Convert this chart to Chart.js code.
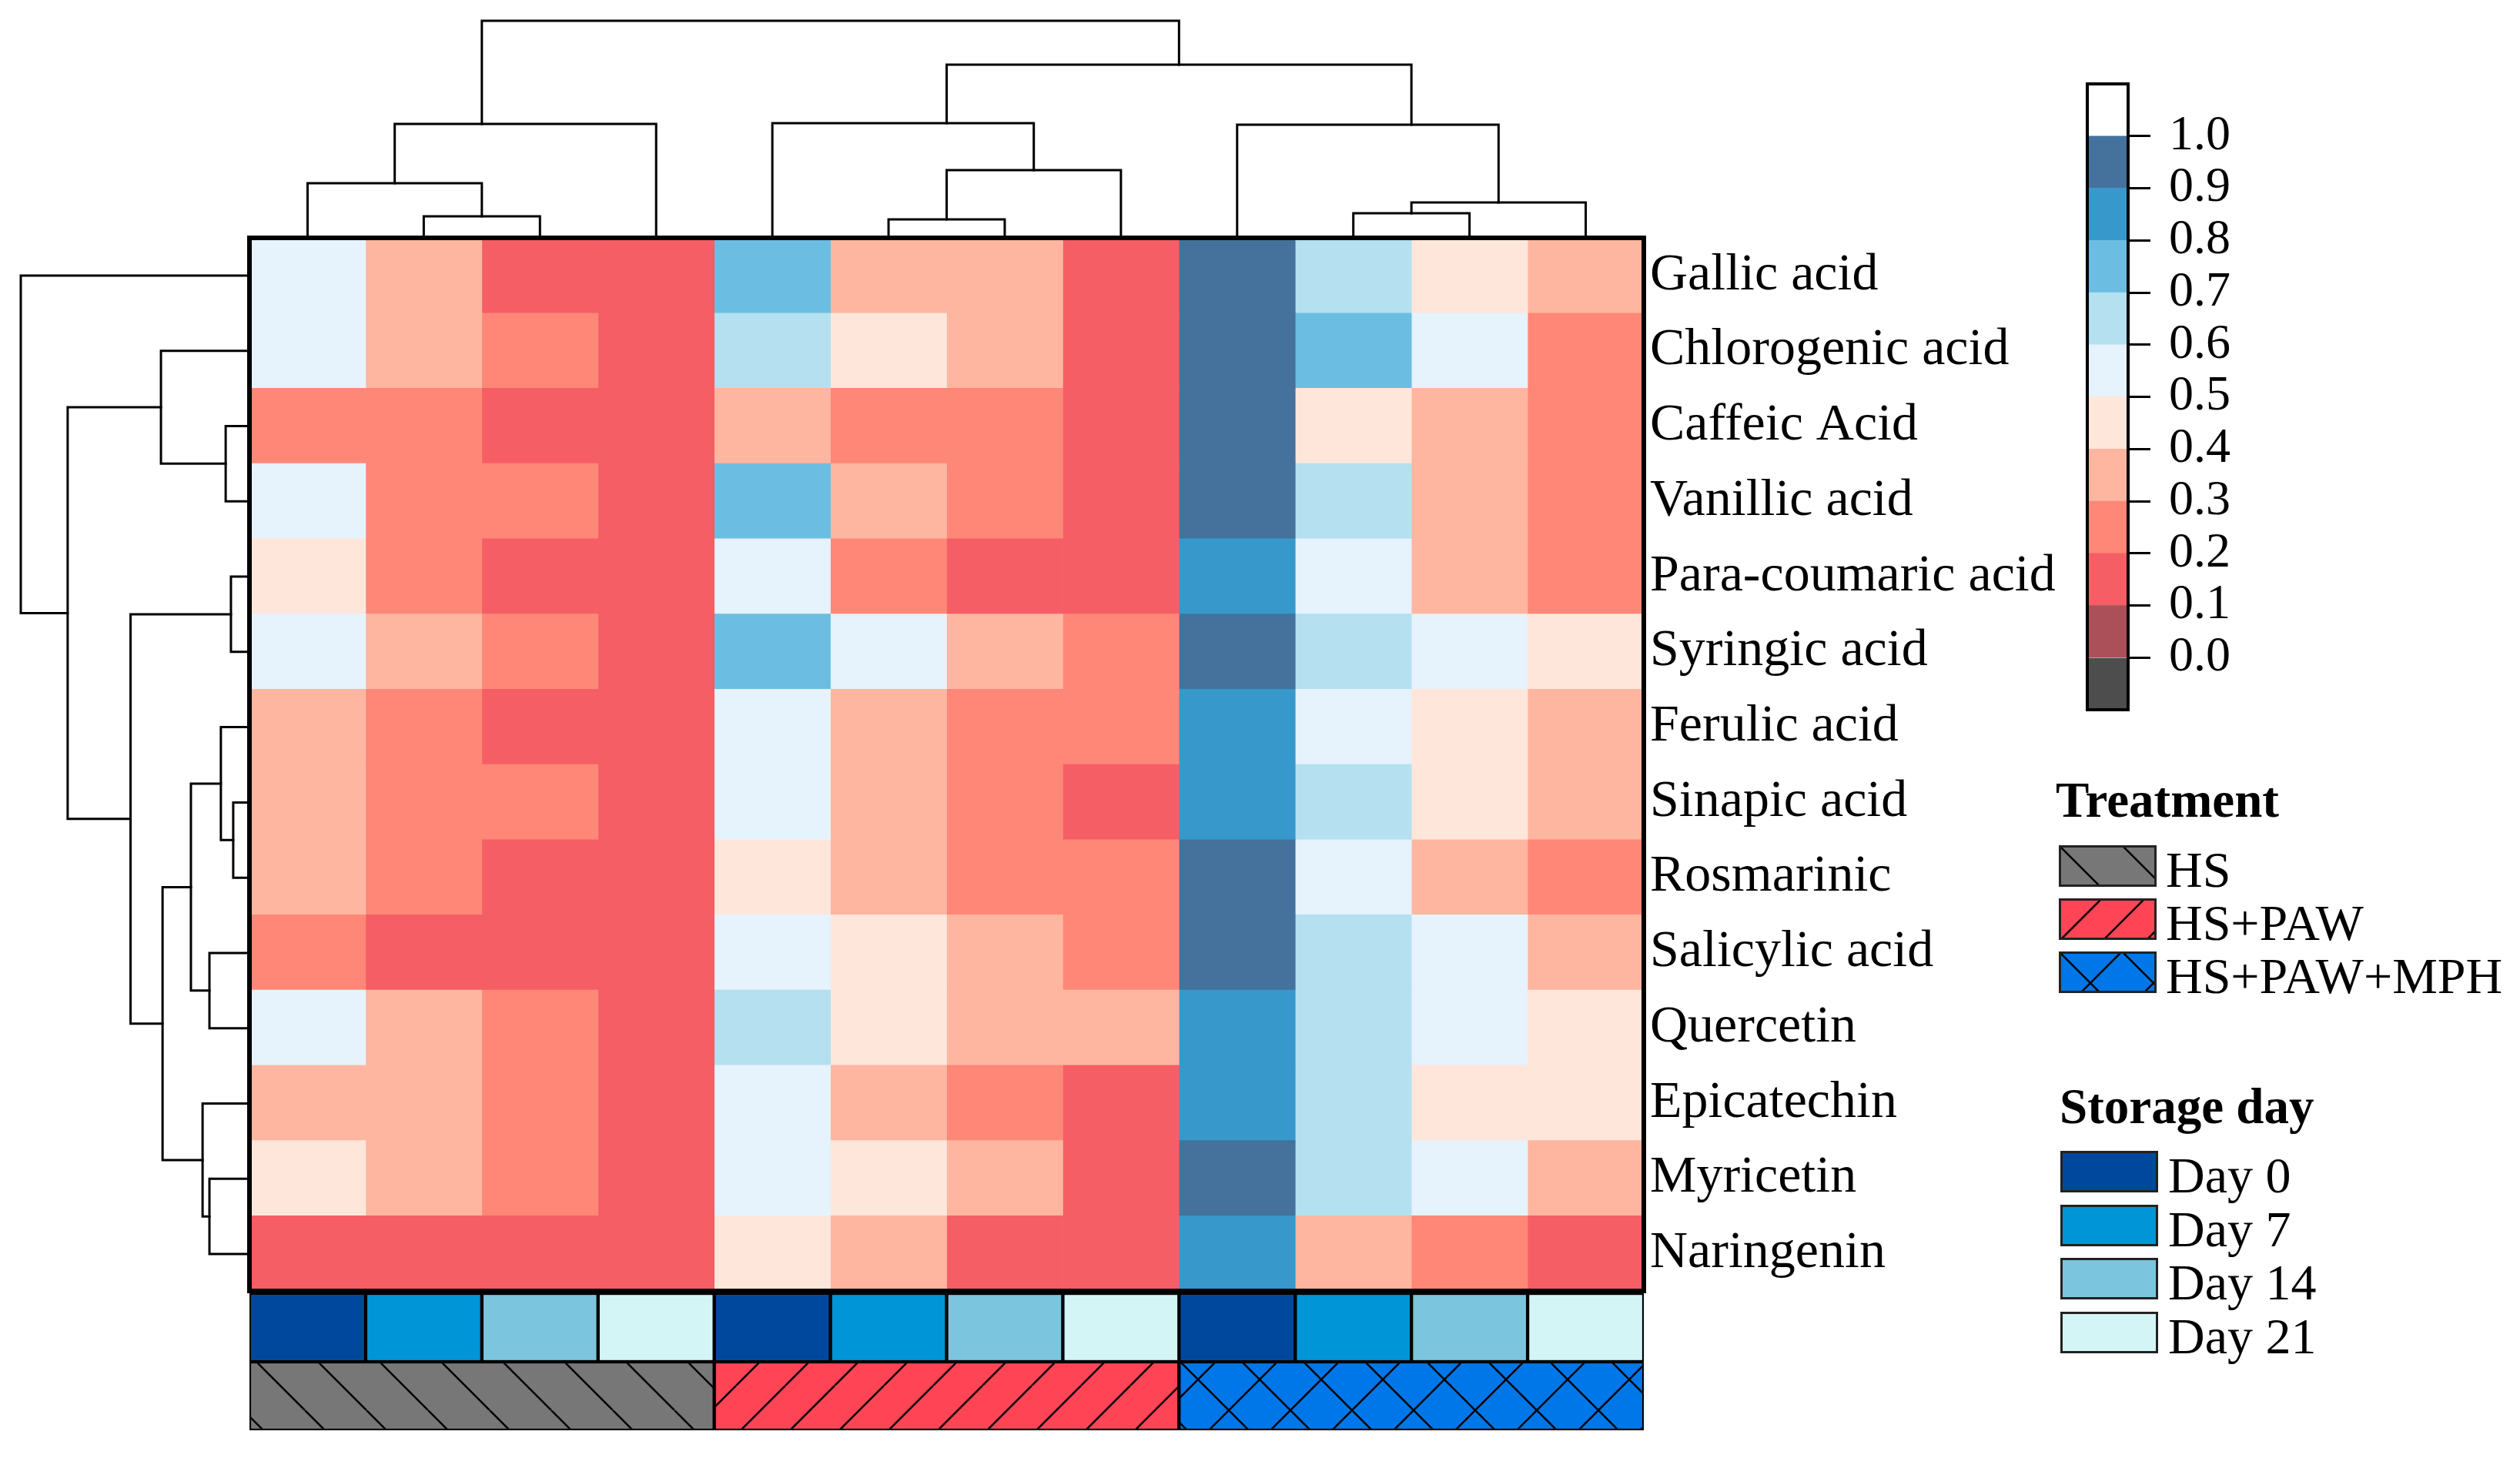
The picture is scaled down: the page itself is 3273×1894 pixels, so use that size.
<!DOCTYPE html>
<html>
<head>
<meta charset="utf-8">
<script src="https://cdn.jsdelivr.net/npm/chart.js@4.4.0/dist/chart.umd.min.js"></script>
<style>
  body { margin: 0; background: #fff; }
  #page { position: relative; width: 3273px; height: 1894px; background: #fff; overflow: hidden; }
  #page canvas { position: absolute; }
  .lg { position: absolute; font-family: 'Liberation Serif', serif; line-height: 1; color: #000; white-space: nowrap; }
  .lg.title { font-weight: bold; font-size: 65px; }
  .lg.item { font-size: 66px; }
</style>
</head>
<body>
<div id="page"></div>
<script>
// ---- data ----
const compounds = ['Gallic acid', 'Chlorogenic acid', 'Caffeic Acid', 'Vanillic acid', 'Para-coumaric acid',
  'Syringic acid', 'Ferulic acid', 'Sinapic acid', 'Rosmarinic', 'Salicylic acid', 'Quercetin',
  'Epicatechin', 'Myricetin', 'Naringenin'];
const treatments = ['HS', 'HS+PAW', 'HS+PAW+MPH'];
const storageDays = ['Day 0', 'Day 7', 'Day 14', 'Day 21'];

// normalised content, one row per compound, Day 0/7/14/21
const hsValues = [
  [0.55, 0.35, 0.15, 0.15], [0.55, 0.35, 0.25, 0.15], [0.25, 0.25, 0.15, 0.15], [0.55, 0.25, 0.25, 0.15],
  [0.45, 0.25, 0.15, 0.15], [0.55, 0.35, 0.25, 0.15], [0.35, 0.25, 0.15, 0.15], [0.35, 0.25, 0.25, 0.15],
  [0.35, 0.25, 0.15, 0.15], [0.25, 0.15, 0.15, 0.15], [0.55, 0.35, 0.25, 0.15], [0.35, 0.35, 0.25, 0.15],
  [0.45, 0.35, 0.25, 0.15], [0.15, 0.15, 0.15, 0.15]
];
const hsPawValues = [
  [0.75, 0.35, 0.35, 0.15], [0.65, 0.45, 0.35, 0.15], [0.35, 0.25, 0.25, 0.15], [0.75, 0.35, 0.25, 0.15],
  [0.55, 0.25, 0.15, 0.15], [0.75, 0.55, 0.35, 0.25], [0.55, 0.35, 0.25, 0.25], [0.55, 0.35, 0.25, 0.15],
  [0.45, 0.35, 0.25, 0.25], [0.55, 0.45, 0.35, 0.25], [0.65, 0.45, 0.35, 0.35], [0.55, 0.35, 0.25, 0.15],
  [0.55, 0.45, 0.35, 0.15], [0.45, 0.35, 0.15, 0.15]
];
const hsPawMphValues = [
  [0.95, 0.65, 0.45, 0.35], [0.95, 0.75, 0.55, 0.25], [0.95, 0.45, 0.35, 0.25], [0.95, 0.65, 0.35, 0.25],
  [0.85, 0.55, 0.35, 0.25], [0.95, 0.65, 0.55, 0.45], [0.85, 0.55, 0.45, 0.35], [0.85, 0.65, 0.45, 0.35],
  [0.95, 0.55, 0.35, 0.25], [0.95, 0.65, 0.55, 0.35], [0.85, 0.65, 0.55, 0.45], [0.85, 0.65, 0.45, 0.45],
  [0.95, 0.65, 0.55, 0.35], [0.85, 0.35, 0.25, 0.15]
];

// column dendrogram: [childA, childB, height]; leaves 0-11, new nodes from 12
const colMerges = [
  [1, 2, 0.096], [0, 12, 0.249], [13, 3, 0.523],
  [5, 6, 0.082], [15, 7, 0.31], [4, 16, 0.527],
  [9, 10, 0.11], [18, 11, 0.16], [8, 19, 0.52],
  [17, 20, 0.797], [14, 21, 1.0]
];
// row dendrogram: leaves 0-13, new nodes from 14
const rowMerges = [
  [2, 3, 0.104], [1, 14, 0.387], [4, 5, 0.081], [7, 8, 0.071], [6, 17, 0.125],
  [9, 10, 0.175], [18, 19, 0.256], [12, 13, 0.175], [11, 21, 0.205], [20, 22, 0.38],
  [16, 23, 0.52], [15, 24, 0.795], [0, 25, 1.0]
];

const scaleEdges = [-0.1, 0, 0.1, 0.2, 0.3, 0.4, 0.5, 0.6, 0.7, 0.8, 0.9, 1.0, 1.1];
const scaleTicks = [0, 0.1, 0.2, 0.3, 0.4, 0.5, 0.6, 0.7, 0.8, 0.9, 1.0];

// ---- styles ----
const binColors = ['#4d4d4d', '#ab4f58', '#f65e66', '#fe8777', '#feb6a0', '#fee6da',
  '#e6f2fc', '#b4e0f0', '#6bbde2', '#3798cc', '#44729c', '#ffffff'];
const dayColors = ['#00489e', '#0095d6', '#7cc5de', '#d3f5f5'];
const treatColors = ['#777777', '#ff4455', '#0077e8'];
const treatHatch = ['\\', '/', 'x'];
const hatchSize = [80, 64, 80];

Chart.defaults.font.family = "'Liberation Serif', serif";
Chart.defaults.color = '#000';
Chart.defaults.animation = false;

const page = document.getElementById('page');
const nCols = treatments.length * storageDays.length;
const heat = compounds.map((_, i) => [...hsValues[i], ...hsPawValues[i], ...hsPawMphValues[i]]);
const colDay = Array.from({ length: nCols }, (_, j) => j % storageDays.length);

function colorFor(v) {
  let k = scaleEdges.findIndex((e, i) => i < scaleEdges.length - 1 && v >= e && v < scaleEdges[i + 1]);
  if (k < 0) k = v < 0 ? 0 : binColors.length - 1;
  return binColors[k];
}

function hatch(bg, kind, p) {
  const c = document.createElement('canvas');
  c.width = p; c.height = p;
  const g = c.getContext('2d');
  g.fillStyle = bg;
  g.fillRect(0, 0, p, p);
  g.strokeStyle = '#000';
  g.lineWidth = 2.5;
  for (const k of [-p, 0, p]) {
    if (kind !== '/') { g.beginPath(); g.moveTo(k, 0); g.lineTo(k + p, p); g.stroke(); }
    if (kind !== '\\') { g.beginPath(); g.moveTo(k + p, 0); g.lineTo(k, p); g.stroke(); }
  }
  return g.createPattern(c, 'repeat');
}

function addCanvas(left, top, w, h) {
  const c = document.createElement('canvas');
  c.width = w; c.height = h;
  c.style.left = left + 'px'; c.style.top = top + 'px';
  c.style.width = w + 'px'; c.style.height = h + 'px';
  page.appendChild(c);
  return c;
}

const frame = (lw) => ({
  id: 'frame',
  afterDatasetsDraw(chart) {
    const { ctx, chartArea: a } = chart;
    ctx.save();
    ctx.lineWidth = lw;
    ctx.strokeStyle = '#000';
    ctx.strokeRect(a.left, a.top, a.right - a.left, a.bottom - a.top);
    ctx.restore();
  }
});

// fixed axis width, no extra room reserved for the end labels
const fixedAxis = (w) => (s) => { s.width = w; s.paddingTop = 0; s.paddingBottom = 0; };

// dendrogram links from merge list; big clusters sit over the mean of their leaves
function treeLinks(merges, nLeaves, meanFrom) {
  const pos = [], ht = [], cnt = [], sum = [], links = [];
  for (let i = 0; i < nLeaves; i++) { pos[i] = i + 0.5; ht[i] = 0; cnt[i] = 1; sum[i] = i + 0.5; }
  merges.forEach(([a, b, h], k) => {
    const id = nLeaves + k;
    ht[id] = h; cnt[id] = cnt[a] + cnt[b]; sum[id] = sum[a] + sum[b];
    pos[id] = cnt[id] >= meanFrom ? sum[id] / cnt[id] : (pos[a] + pos[b]) / 2;
    links.push([[pos[a], ht[a]], [pos[a], h], [pos[b], h], [pos[b], ht[b]]]);
  });
  return links;
}

const lineStyle = { showLine: true, pointRadius: 0, borderColor: '#000', borderWidth: 3,
  borderJoinStyle: 'miter', borderCapStyle: 'square', clip: false, tension: 0 };
const baseOpts = { responsive: false, devicePixelRatio: 1, plugins: { legend: { display: false }, tooltip: { enabled: false } } };

// ---- top (column) dendrogram ----
new Chart(addCanvas(314, 17, 1831, 291), {
  type: 'scatter',
  data: {
    datasets: treeLinks(colMerges, nCols, 4).map(l => ({
      data: l.map(([x, y]) => ({ x, y })), ...lineStyle
    }))
  },
  options: {
    ...baseOpts,
    layout: { padding: { left: 10, right: 10, top: 10, bottom: 0 } },
    scales: {
      x: { type: 'linear', min: 0, max: nCols, display: false },
      y: { type: 'linear', min: 0, max: 1, display: false }
    }
  }
});

// ---- left (row) dendrogram ----
new Chart(addCanvas(17, 299, 307, 1389), {
  type: 'scatter',
  data: {
    datasets: treeLinks(rowMerges, compounds.length, Infinity).map(l => ({
      data: l.map(([y, x]) => ({ x, y })), ...lineStyle
    }))
  },
  options: {
    ...baseOpts,
    layout: { padding: { left: 10, right: 0, top: 10, bottom: 10 } },
    scales: {
      x: { type: 'linear', min: 0, max: 1, reverse: true, display: false },
      y: { type: 'linear', min: 0, max: compounds.length, reverse: true, display: false }
    }
  }
});

// ---- heatmap ----
new Chart(addCanvas(316, 301, 2359, 1384), {
  type: 'bar',
  data: {
    labels: compounds,
    datasets: Array.from({ length: nCols }, (_, j) => ({
      data: compounds.map(() => [j, j + 1]),
      backgroundColor: compounds.map((_, i) => colorFor(heat[i][j])),
      borderWidth: 0, barPercentage: 1, categoryPercentage: 1, grouped: false
    }))
  },
  options: {
    ...baseOpts,
    indexAxis: 'y',
    layout: { padding: { left: 8, right: 0, top: 8, bottom: 8 } },
    scales: {
      x: { type: 'linear', min: 0, max: nCols, display: false },
      y: {
        position: 'right',
        grid: { display: false }, border: { display: false },
        ticks: { font: { size: 68 }, padding: 0, color: '#000', autoSkip: false },
        afterFit: fixedAxis(540)
      }
    }
  },
  plugins: [frame(6)]
});

// ---- annotation bars (storage day, treatment) ----
const perTreat = storageDays.length;
new Chart(addCanvas(316, 1672, 1827, 194), {
  type: 'bar',
  data: {
    labels: ['Storage day', 'Treatment'],
    datasets: [
      ...colDay.map((d, j) => ({
        data: [[j, j + 1], null],
        backgroundColor: dayColors[d]
      })),
      ...treatments.map((t, g) => ({
        data: [null, [g * perTreat, (g + 1) * perTreat]],
        backgroundColor: hatch(treatColors[g], treatHatch[g], hatchSize[g])
      }))
    ].map(ds => ({ ...ds, borderWidth: 2.5, borderColor: '#000', borderSkipped: false,
      barPercentage: 1, categoryPercentage: 1, grouped: false }))
  },
  options: {
    ...baseOpts,
    indexAxis: 'y',
    layout: { padding: 8 },
    scales: {
      x: { type: 'linear', min: 0, max: nCols, display: false },
      y: { display: false }
    }
  }
});

// ---- colour scale ----
new Chart(addCanvas(2703, 101, 261, 829), {
  type: 'bar',
  data: {
    labels: [''],
    datasets: binColors.map((c, k) => ({
      data: [[scaleEdges[k], scaleEdges[k + 1]]],
      backgroundColor: c, borderWidth: 0, barPercentage: 1, categoryPercentage: 1, grouped: false
    }))
  },
  options: {
    ...baseOpts,
    layout: { padding: { left: 8, right: 0, top: 8, bottom: 8 } },
    scales: {
      x: { display: false },
      y: {
        position: 'right', min: scaleEdges[0], max: scaleEdges[scaleEdges.length - 1],
        afterBuildTicks(s) { s.ticks = scaleTicks.map(v => ({ value: v })); },
        afterFit: fixedAxis(200),
        ticks: { font: { size: 64 }, padding: 24, color: '#000', autoSkip: false,
          callback: v => Number(v).toFixed(1) },
        grid: { drawOnChartArea: false, drawTicks: true, tickLength: 29, tickWidth: 3, tickColor: '#000' },
        border: { display: false }
      }
    }
  },
  plugins: [frame(4)]
});

// ---- legends ----
function legendText(cls, text, x, baseline) {
  const d = document.createElement('div');
  d.className = 'lg ' + cls;
  d.textContent = text;
  d.style.left = x + 'px';
  d.style.top = (baseline - (cls === 'title' ? 54 : 55)) + 'px';
  page.appendChild(d);
}
function legendSwatch(x, y, fill) {
  const c = addCanvas(x, y, 127, 54);
  const g = c.getContext('2d');
  g.fillStyle = fill;
  g.fillRect(0, 0, 127, 54);
  g.lineWidth = 3;
  g.strokeStyle = '#222';
  g.strokeRect(1.5, 1.5, 124, 51);
}

legendText('title', 'Treatment', 2670, 1061);
treatments.forEach((t, g) => {
  const y = 1098 + g * 69;
  legendSwatch(2674, y, hatch(treatColors[g], treatHatch[g], g === 1 ? 56 : 82));
  legendText('item', t, 2813, y + 54);
});
legendText('title', 'Storage day', 2675, 1459);
storageDays.forEach((d, k) => {
  const y = 1495 + k * 69.5;
  legendSwatch(2676, y, dayColors[k]);
  legendText('item', d, 2816, y + 54);
});
</script>
</body>
</html>
